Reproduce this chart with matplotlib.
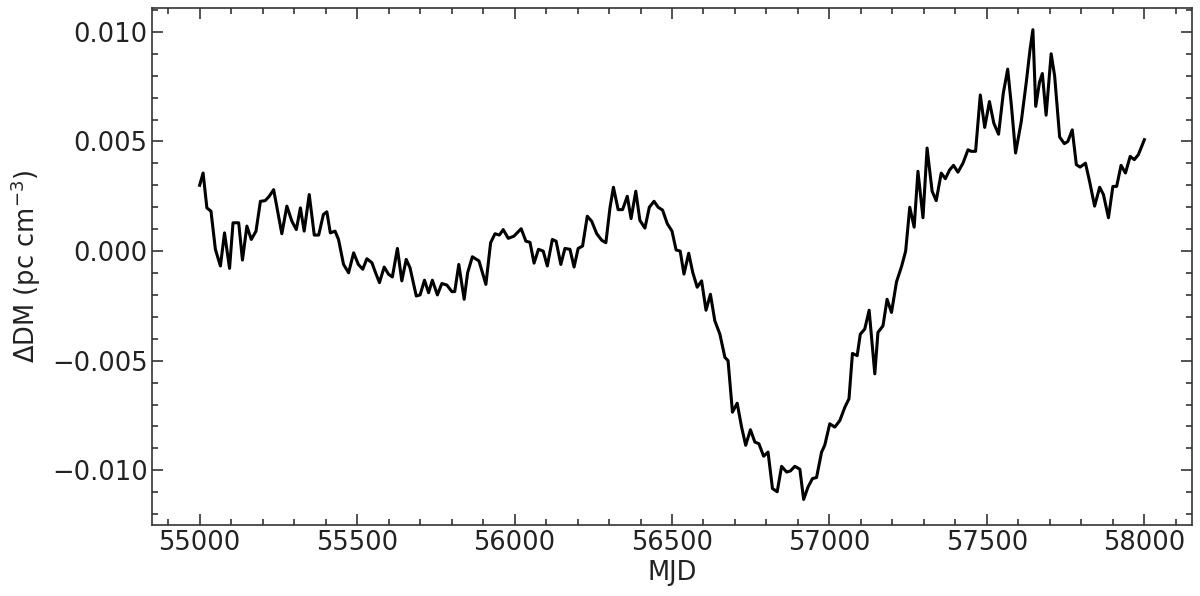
import matplotlib
matplotlib.use('Agg')
import matplotlib.pyplot as plt
from matplotlib.ticker import MultipleLocator
import numpy as np

# DM variations (MJD, delta DM in pc cm^-3)
mjd = [55000, 55011, 55023, 55036, 55050, 55066, 55079, 55095, 55106, 55124,
       55136, 55150, 55164, 55179, 55193, 55208, 55221, 55235, 55248, 55261,
       55277, 55293, 55307, 55320, 55332, 55348, 55364, 55378, 55393, 55404,
       55415, 55430, 55441, 55457, 55473, 55489, 55504, 55518, 55531, 55547,
       55559, 55571, 55586, 55600, 55612, 55628, 55642, 55656, 55668, 55688,
       55700, 55714, 55727, 55739, 55755, 55769, 55785, 55801, 55810, 55823,
       55840, 55851, 55866, 55887, 55909, 55924, 55938, 55952, 55964, 55980,
       55998, 56021, 56036, 56049, 56062, 56076, 56091, 56104, 56120, 56132,
       56147, 56160, 56176, 56189, 56202, 56216, 56231, 56245, 56261, 56277,
       56290, 56303, 56314, 56329, 56343, 56358, 56370, 56385, 56398, 56414,
       56428, 56443, 56456, 56470, 56485, 56500, 56513, 56526, 56538, 56553,
       56566, 56580, 56594, 56608, 56622, 56636, 56652, 56668, 56678, 56692,
       56707, 56721, 56734, 56749, 56763, 56776, 56791, 56805, 56819, 56834,
       56848, 56864, 56876, 56890, 56906, 56918, 56932, 56946, 56959, 56975,
       56985, 57001, 57017, 57033, 57049, 57062, 57073, 57088, 57098, 57112,
       57126, 57144, 57154, 57170, 57183, 57197, 57213, 57229, 57242, 57255,
       57269, 57281, 57297, 57310, 57326, 57339, 57355, 57368, 57382, 57394,
       57408, 57424, 57440, 57450, 57464, 57479, 57493, 57508, 57522, 57537,
       57552, 57566, 57578, 57591, 57609, 57625, 57637, 57646, 57655, 57667,
       57676, 57688, 57704, 57715, 57731, 57746, 57757, 57771, 57784, 57796,
       57813, 57826, 57842, 57858, 57870, 57886, 57900, 57912, 57926, 57940,
       57955, 57968, 57981, 58000]

ddm = [0.0030, 0.00356, 0.00197, 0.00182, 0.00008, -0.00068, 0.00083, -0.00079, 0.00129, 0.00129,
       -0.00041, 0.00114, 0.00053, 0.00091, 0.00227, 0.0023, 0.0025, 0.0028, 0.0018, 0.00079,
       0.00205, 0.00136, 0.00098, 0.00197, 0.00091, 0.00258, 0.00073, 0.00073, 0.00167, 0.00179,
       0.00083, 0.00091, 0.00053, -0.00061, -0.00099, -0.00008, -0.00061, -0.00083, -0.00035, -0.00053,
       -0.0010, -0.00144, -0.00073, -0.00106, -0.00118, 0.00012, -0.00136, -0.00038, -0.00076, -0.00205,
       -0.0020, -0.00133, -0.0019, -0.00133, -0.0020, -0.00148, -0.00155, -0.00185, -0.00185, -0.00061,
       -0.0022, -0.00099, -0.00026, -0.00045, -0.00152, 0.00038, 0.00079, 0.00073, 0.00098, 0.00058,
       0.00068, 0.00102, 0.00045, 0.0004, -0.00055, 0.00008, 0.0, -0.00068, 0.00053, 0.00045,
       -0.00061, 0.00012, 0.00008, -0.00073, 0.00012, 0.00023, 0.00159, 0.00136, 0.00079, 0.00049,
       0.00038, 0.00197, 0.00291, 0.00189, 0.00189, 0.0025, 0.00148, 0.00273, 0.0014, 0.00105,
       0.0020, 0.00227, 0.0020, 0.00187, 0.00125, 0.00091, 0.00005, 0.0, -0.00105, -0.0001,
       -0.00098, -0.00165, -0.00136, -0.0027, -0.00197, -0.00318, -0.00379, -0.00485, -0.0050, -0.00735,
       -0.00694, -0.00803, -0.00886, -0.00815, -0.00871, -0.00879, -0.00936, -0.00917, -0.01083, -0.01098,
       -0.00982, -0.01008, -0.01003, -0.00982, -0.00995, -0.01133, -0.01076, -0.01038, -0.01033, -0.00917,
       -0.00886, -0.00788, -0.00803, -0.00773, -0.00712, -0.00674, -0.00467, -0.00477, -0.00379, -0.00356,
       -0.0027, -0.0056, -0.00371, -0.00341, -0.0022, -0.0028, -0.0014, -0.0007, 0.0, 0.0020,
       0.00109, 0.00364, 0.00152, 0.0047, 0.00273, 0.0023, 0.00356, 0.0033, 0.00371, 0.00391,
       0.0036, 0.00401, 0.00462, 0.00455, 0.00455, 0.00712, 0.00564, 0.00682, 0.00583, 0.00533,
       0.0072, 0.0083, 0.0066, 0.00447, 0.0059, 0.0077, 0.0092, 0.0101, 0.0066, 0.0077,
       0.0081, 0.0062, 0.0090, 0.0080, 0.0052, 0.0049, 0.0050, 0.00553, 0.00394, 0.00383,
       0.00401, 0.00318, 0.00205, 0.00291, 0.00258, 0.00152, 0.00295, 0.00295, 0.00391, 0.00356,
       0.00432, 0.00417, 0.0044, 0.00508]

fig = plt.figure(figsize=(12, 5.96), dpi=100)
ax = fig.add_axes([0.127, 0.119, 0.866, 0.868])

ax.plot(mjd, ddm, color='black', lw=2.2)

ax.set_xlim(54850, 58150)
ax.set_ylim(-0.0125, 0.0111)
ax.xaxis.set_major_locator(MultipleLocator(500))
ax.xaxis.set_minor_locator(MultipleLocator(100))
ax.yaxis.set_major_locator(MultipleLocator(0.005))
ax.yaxis.set_minor_locator(MultipleLocator(0.001))
ax.tick_params(which='both', direction='in', top=True, right=True, labelsize=18.5,
               width=1.2, color='#333333', labelcolor='#222222')
ax.tick_params(which='major', length=8)
ax.tick_params(which='minor', length=4)
for s in ax.spines.values():
    s.set_linewidth(1.2)
    s.set_color('#333333')

ax.set_xlabel('MJD', fontsize=18.5, color='#222222', labelpad=3)
ax.set_ylabel(r'$\Delta$DM (pc cm$^{-3}$)', fontsize=18.5, color='#222222', labelpad=6)

plt.savefig('out.png', dpi=100)
